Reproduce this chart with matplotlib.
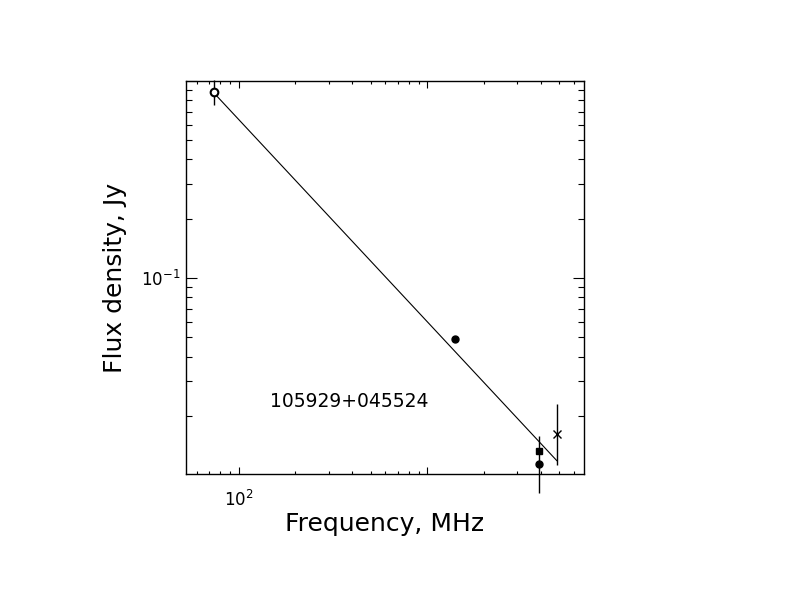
import numpy as np
import matplotlib
matplotlib.use("Agg")
import matplotlib.pyplot as plt
from matplotlib.ticker import FixedLocator, FixedFormatter, LogLocator, NullFormatter

# Данные спектра (частота, МГц; плотность потока, Ян)
freq = [74, 1400, 3900, 3900, 4850]
flux = [0.875, 0.0492, 0.0133, 0.0114, 0.0162]
err_lo = [0.12, 0.0012, 0.0, 0.0033, 0.0050]
err_hi = [0.138, 0.0012, 0.0, 0.0044, 0.0068]
markers = ['o', 'o', 's', 'o', 'x']
filled = [False, True, True, True, False]
msize = [5.5, 5, 5, 5, 6]

# Аппроксимация степенным законом S = s0 * (nu/nu0)^alpha
fit_nu0 = 74.0
fit_s0 = 0.87
fit_alpha = -1.027
fit_range = [74, 4850]

source_name = "105929+045524"

fig = plt.figure(figsize=(7.92, 6.12), dpi=100)
ax = fig.add_axes([0.2348, 0.225, 0.5025, 0.6426])

nu = np.logspace(np.log10(fit_range[0]), np.log10(fit_range[1]), 50)
ax.plot(nu, fit_s0 * (nu / fit_nu0) ** fit_alpha, color='black', lw=0.8)

for f, s, lo, hi, m, fl, ms in zip(freq, flux, err_lo, err_hi, markers, filled, msize):
    if lo > 0 or hi > 0:
        ax.errorbar([f], [s], yerr=[[lo], [hi]], fmt='none', ecolor='black',
                    elinewidth=1.0, capsize=0, clip_on=False)
    ax.plot([f], [s], marker=m, ms=ms, color='black',
            mfc='black' if fl else 'white', mew=1.5 if m == 'o' and not fl else 1.0,
            linestyle='none', clip_on=False, zorder=5)

ax.set_xscale('log')
ax.set_yscale('log')
ax.set_xlim(52.6, 6760)
ax.set_ylim(0.0101, 1.0)

ax.xaxis.set_major_locator(FixedLocator([100, 1000]))
ax.xaxis.set_major_formatter(FixedFormatter(['10$^{2}$', '']))
ax.xaxis.set_minor_locator(LogLocator(base=10, subs=np.arange(2, 10)))
ax.xaxis.set_minor_formatter(NullFormatter())
ax.yaxis.set_major_locator(FixedLocator([0.01, 0.1, 1.0]))
ax.yaxis.set_major_formatter(FixedFormatter(['', '10$^{-1}$', '']))
ax.yaxis.set_minor_locator(LogLocator(base=10, subs=np.arange(2, 10)))
ax.yaxis.set_minor_formatter(NullFormatter())

ax.tick_params(which='both', direction='in', top=True, right=True, width=0.8)
ax.tick_params(axis='x', which='major', length=5, labelsize=12, pad=11)
ax.tick_params(axis='x', which='minor', length=2.5)
ax.tick_params(axis='y', which='major', length=8, labelsize=12, pad=4)
ax.tick_params(axis='y', which='minor', length=4)
for sp in ax.spines.values():
    sp.set_linewidth(1.0)

ax.set_xlabel('Frequency, MHz', fontsize=18, labelpad=2)
ax.set_ylabel('Flux density, Jy', fontsize=18, labelpad=10)
ax.text(0.41, 0.186, source_name, transform=ax.transAxes, fontsize=13.5,
        ha='center', va='center')

fig.savefig('out.png', dpi=100)
